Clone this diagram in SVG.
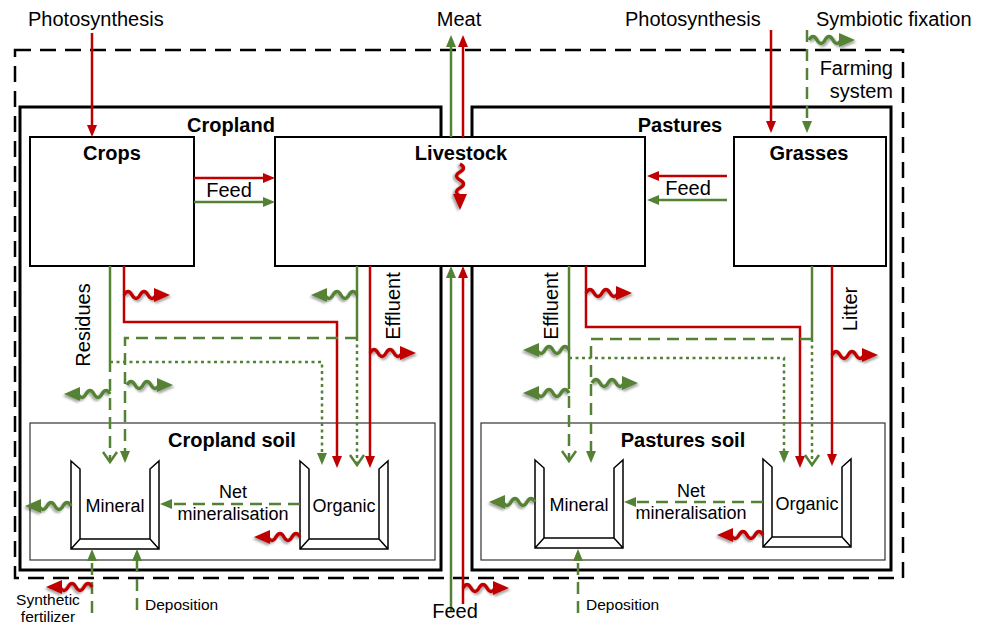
<svg xmlns="http://www.w3.org/2000/svg" xmlns:xlink="http://www.w3.org/1999/xlink" width="988" height="628" viewBox="0 0 988 628">
<style>
.t{font-family:"Liberation Sans",Arial,sans-serif;font-size:20px;fill:#000}
.b{font-weight:bold}
.s18{font-size:18px}
.s15{font-size:15.5px}
.r{stroke:#c00000;stroke-width:2.5;fill:none}
.g{stroke:#548235;stroke-width:2.5;fill:none}
.da{stroke-dasharray:12 7}
.dt{stroke-dasharray:3 3.5}
.box{fill:#fff;stroke:#000;stroke-width:2}
.sys{fill:none;stroke:#000;stroke-width:3}
.soil{fill:none;stroke:#333;stroke-width:1.2}
.fs{fill:none;stroke:#000;stroke-width:2.5;stroke-dasharray:16 9}
.wr{color:#c00000}
.wg{color:#548235}
</style>
<defs>
<filter id="sh" x="-20%" y="-50%" width="150%" height="200%">
<feDropShadow dx="1.5" dy="2" stdDeviation="1.2" flood-color="#000" flood-opacity="0.35"/>
</filter>
<g id="wv" filter="url(#sh)">
<path d="M0,0 q4,-7 8,0 t8,0 t8,0 t8,0" fill="none" stroke="currentColor" stroke-width="3.5"/>
<path d="M30,-7 L46,0 L30,7 Z" fill="currentColor"/>
</g>
<g id="bucket">
<path d="M0,0 L9,8 V78 H79 V8 L88,0 V88 H0 Z M0,88 L9,78 M88,88 L79,78" fill="#fff" stroke="#000" stroke-width="1.5" stroke-linejoin="miter"/>
</g>
<marker id="mr" viewBox="0 0 12 10" refX="7" refY="5" markerWidth="12" markerHeight="10" markerUnits="userSpaceOnUse" orient="auto">
<path d="M0,0 L12,5 L0,10 Z" fill="#c00000"/>
</marker>
<marker id="mg" viewBox="0 0 12 10" refX="7" refY="5" markerWidth="12" markerHeight="10" markerUnits="userSpaceOnUse" orient="auto">
<path d="M0,0 L12,5 L0,10 Z" fill="#548235"/>
</marker>
<marker id="mv" viewBox="-13 -9 16 18" refX="0" refY="0" markerWidth="16" markerHeight="18" markerUnits="userSpaceOnUse" orient="auto">
<path d="M-10,-7 L0,0 L-10,7" fill="none" stroke="#548235" stroke-width="2.5"/>
</marker>
</defs>

<g id="farming-system">
<rect x="15" y="50" width="888" height="528" class="fs"/>
<text class="t" x="893" y="75" text-anchor="end">Farming</text>
<text class="t" x="893" y="98" text-anchor="end">system</text>
</g>

<g id="cropland">
<rect x="20" y="107" width="421" height="463" class="sys"/>
<text class="t b" x="231" y="132" text-anchor="middle">Cropland</text>
</g>

<g id="pastures">
<rect x="472" y="107" width="419" height="463" class="sys"/>
<text class="t b" x="680" y="132" text-anchor="middle">Pastures</text>
</g>

<g id="cropland-soil">
<rect x="30" y="423" width="405" height="137" class="soil"/>
<text class="t b" x="232" y="447" text-anchor="middle">Cropland soil</text>
</g>

<g id="pastures-soil">
<rect x="481" y="423" width="404" height="137" class="soil"/>
<text class="t b" x="683" y="447" text-anchor="middle">Pastures soil</text>
</g>

<g id="crops">
<rect x="30" y="137" width="164" height="129" class="box"/>
<text class="t b" x="112" y="160" text-anchor="middle">Crops</text>
</g>

<g id="livestock">
<rect x="275" y="137" width="370" height="129" class="box"/>
<text class="t b" x="461" y="160" text-anchor="middle">Livestock</text>
</g>

<g id="grasses">
<rect x="734" y="137" width="152" height="129" class="box"/>
<text class="t b" x="809" y="160" text-anchor="middle">Grasses</text>
</g>

<g id="cropland-mineral">
<use xlink:href="#bucket" href="#bucket" transform="translate(71,461)"/>
<text class="t s18" x="115" y="512" text-anchor="middle">Mineral</text>
</g>

<g id="cropland-organic">
<use xlink:href="#bucket" href="#bucket" transform="translate(300,461)"/>
<text class="t s18" x="344" y="512" text-anchor="middle">Organic</text>
</g>

<g id="pastures-mineral">
<use xlink:href="#bucket" href="#bucket" transform="translate(535,460)"/>
<text class="t s18" x="579" y="511" text-anchor="middle">Mineral</text>
</g>

<g id="pastures-organic">
<use xlink:href="#bucket" href="#bucket" transform="translate(763,459)"/>
<text class="t s18" x="807" y="510" text-anchor="middle">Organic</text>
</g>

<g id="connectors">
<!-- red flows -->
<path class="r" d="M92,33 V132" marker-end="url(#mr)"/>
<path class="r" d="M771,30 V128" marker-end="url(#mr)"/>
<path class="r" d="M463,137 V40" marker-end="url(#mr)"/>
<path class="r" d="M463,604 V271" marker-end="url(#mr)"/>
<path class="r" d="M194,178 H270" marker-end="url(#mr)"/>
<path class="r" d="M727,176 H652" marker-end="url(#mr)"/>
<path class="r" d="M124,266 V322 H337 V463" marker-end="url(#mr)"/>
<path class="r" d="M370,266 V463" marker-end="url(#mr)"/>
<path class="r" d="M586,266 V327 H800 V463" marker-end="url(#mr)"/>
<path class="r" d="M832,266 V461" marker-end="url(#mr)"/>

<!-- green flows -->
<path class="g" d="M451,137 V40" marker-end="url(#mg)"/>
<path class="g" d="M451,612 V271" marker-end="url(#mg)"/>
<path class="g" d="M194,202 H270" marker-end="url(#mg)"/>
<path class="g" d="M727,200 H652" marker-end="url(#mg)"/>
<path class="g da" d="M807,30 V128" marker-end="url(#mg)"/>

<path class="g" d="M110,266 V360"/>
<path class="g da" d="M110,360 V462" marker-end="url(#mv)"/>
<path class="g da" d="M357,338 H125 V458" marker-end="url(#mg)"/>
<path class="g dt" d="M110,362 H322 V460" marker-end="url(#mg)"/>
<path class="g" d="M357,266 V338"/>
<path class="g dt" d="M357,338 V465" marker-end="url(#mv)"/>

<path class="g" d="M569,266 V377"/>
<path class="g da" d="M569,377 V461" marker-end="url(#mv)"/>
<path class="g da" d="M812,339 H591 V458" marker-end="url(#mg)"/>
<path class="g dt" d="M569,358 H784 V458" marker-end="url(#mg)"/>
<path class="g" d="M812,266 V339"/>
<path class="g dt" d="M812,339 V465" marker-end="url(#mv)"/>

<path class="g da" d="M300,504 H165" marker-end="url(#mg)"/>
<path class="g da" d="M763,502 H629" marker-end="url(#mg)"/>
<path class="g da" d="M92,613 V554" marker-end="url(#mg)"/>
<path class="g da" d="M137,610 V554" marker-end="url(#mg)"/>
<path class="g da" d="M578,613 V554" marker-end="url(#mg)"/>

<!-- wavy loss arrows -->
<use xlink:href="#wv" href="#wv" class="wr" transform="translate(124,295)"/>
<use xlink:href="#wv" href="#wv" class="wr" transform="translate(370,353)"/>
<use xlink:href="#wv" href="#wv" class="wr" transform="translate(586,293)"/>
<use xlink:href="#wv" href="#wv" class="wr" transform="translate(832,355)"/>
<use xlink:href="#wv" href="#wv" class="wr" transform="translate(463,588)"/>
<use xlink:href="#wv" href="#wv" class="wr" transform="translate(460,164) rotate(90)"/>
<use xlink:href="#wv" href="#wv" class="wr" transform="translate(300,537) scale(-1,1)"/>
<use xlink:href="#wv" href="#wv" class="wr" transform="translate(763,535) scale(-1,1)"/>
<use xlink:href="#wv" href="#wv" class="wr" transform="translate(92,587) scale(-1,1)"/>

<use xlink:href="#wv" href="#wv" class="wg" transform="translate(809,40)"/>
<use xlink:href="#wv" href="#wv" class="wg" transform="translate(110,394) scale(-1,1)"/>
<use xlink:href="#wv" href="#wv" class="wg" transform="translate(127,385)"/>
<use xlink:href="#wv" href="#wv" class="wg" transform="translate(357,295) scale(-1,1)"/>
<use xlink:href="#wv" href="#wv" class="wg" transform="translate(569,350) scale(-1,1)"/>
<use xlink:href="#wv" href="#wv" class="wg" transform="translate(569,393) scale(-1,1)"/>
<use xlink:href="#wv" href="#wv" class="wg" transform="translate(592,383)"/>
<use xlink:href="#wv" href="#wv" class="wg" transform="translate(71,506) scale(-1,1)"/>
<use xlink:href="#wv" href="#wv" class="wg" transform="translate(535,502) scale(-1,1)"/>

<!-- connector labels -->
<text class="t" x="28" y="26">Photosynthesis</text>
<text class="t" x="459" y="26" text-anchor="middle">Meat</text>
<text class="t" x="625" y="26">Photosynthesis</text>
<text class="t" x="816" y="26">Symbiotic fixation</text>
<text class="t" x="229" y="197" text-anchor="middle">Feed</text>
<text class="t" x="688" y="195" text-anchor="middle">Feed</text>
<text class="t" transform="translate(90,325) rotate(-90)" text-anchor="middle">Residues</text>
<text class="t" transform="translate(400,306) rotate(-90)" text-anchor="middle">Effluent</text>
<text class="t" transform="translate(558,306) rotate(-90)" text-anchor="middle">Effluent</text>
<text class="t" transform="translate(857,309) rotate(-90)" text-anchor="middle">Litter</text>
<text class="t s18" x="233" y="498" text-anchor="middle">Net</text>
<text class="t s18" x="233" y="520" text-anchor="middle">mineralisation</text>
<text class="t s18" x="691" y="497" text-anchor="middle">Net</text>
<text class="t s18" x="691" y="519" text-anchor="middle">mineralisation</text>
<text class="t s15" x="48" y="605" text-anchor="middle">Synthetic</text>
<text class="t s15" x="48" y="622" text-anchor="middle">fertilizer</text>
<text class="t s15" x="145" y="610">Deposition</text>
<text class="t s15" x="586" y="610">Deposition</text>
<text class="t" x="455" y="618" text-anchor="middle">Feed</text>
</g>
</svg>
